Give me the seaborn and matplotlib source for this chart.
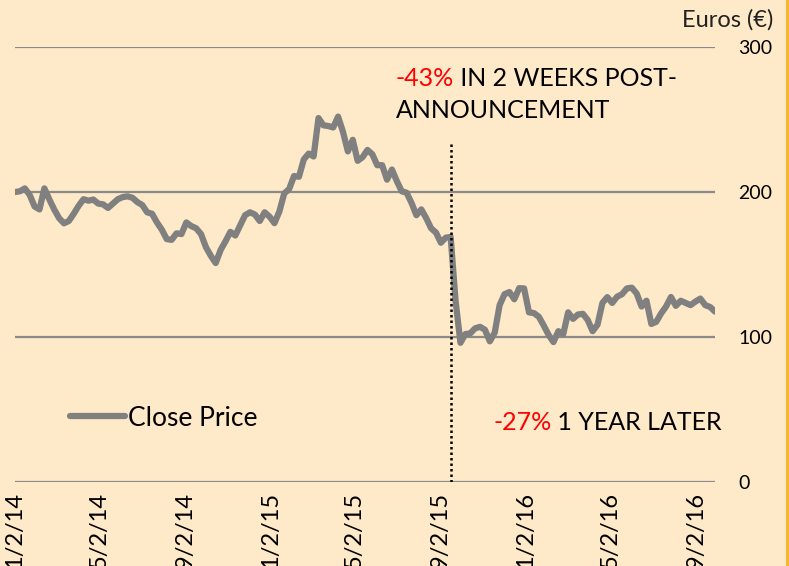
import matplotlib
matplotlib.use("Agg")
import matplotlib.pyplot as plt
from matplotlib.lines import Line2D
import seaborn as sns
import pandas as pd

# weekly close price (EUR)
close_price = [
    200, 200.5, 202.5, 198, 190, 188, 202.5, 195, 188, 182,
    178.4, 180, 185, 190.5, 195, 194, 194.8, 192, 191.5, 189,
    192, 195, 196.5, 197, 196, 193, 191, 186, 185, 179,
    174, 167.5, 167, 171.5, 171, 179, 176.5, 175, 171, 162,
    156, 151, 160, 166, 172.5, 170, 177, 184, 186, 184.5,
    180, 186, 183, 178.5, 186.5, 199, 202, 211, 210.5, 222.5,
    226.5, 224.5, 251, 246, 245.5, 244.5, 252, 241.5, 228, 236,
    221.5, 224, 229, 226, 218.5, 218.5, 208.5, 215.5, 207.5, 200.5,
    199.5, 192.5, 184, 188, 182, 175, 172, 165, 168.5, 169,
    125, 96, 102, 102.5, 106, 107, 105, 97, 103, 122,
    129.5, 131, 126, 133.7, 133.5, 117, 116.5, 114, 108, 101.5,
    96.5, 104, 102, 117, 112.5, 115.5, 116, 111.7, 104, 108.5,
    123.5, 127.5, 123.5, 127.8, 129.5, 133.5, 134, 130, 121, 125,
    109, 110.5, 116.3, 121, 127.6, 121.5, 125, 123.5, 122, 124.4,
    126.5, 122, 120.7, 117.5,
]
start_date = "2014-01-02"
tick_dates = ["2014-01-02", "2014-05-02", "2014-09-02", "2015-01-02", "2015-05-02",
              "2015-09-02", "2016-01-02", "2016-05-02", "2016-09-02"]
tick_labels = ["1/2/14", "5/2/14", "9/2/14", "1/2/15", "5/2/15",
               "9/2/15", "1/2/16", "5/2/16", "9/2/16"]
y_ticks = [0, 100, 200, 300]
announce_date = "2015-09-18"
announce_top = 235

bg = "#FEE9C8"
grey = "#808080"

sns.set_style("white", {"axes.facecolor": bg, "figure.facecolor": bg,
                        "text.color": "black", "xtick.color": "black",
                        "ytick.color": "black"})
plt.rcParams["font.family"] = ["Lato", "DejaVu Sans"]

df = pd.DataFrame({
    "Date": pd.date_range(start_date, periods=len(close_price), freq="7D"),
    "Close Price": close_price,
})

W, H = 789, 566
fig = plt.figure(figsize=(W / 100, H / 100), dpi=100)
ax = fig.add_axes([15 / W, 1 - 482 / H, (715 - 15) / W, (482 - 47) / H])

sns.lineplot(data=df, x="Date", y="Close Price", ax=ax, color=grey, lw=4.5,
             label="Close Price", zorder=3)

ax.vlines(pd.Timestamp(announce_date), 0, announce_top, colors="black",
          linestyles=(0, (1, 1.2)), lw=1.8, zorder=4)

ax.set_xlim(df["Date"].iloc[0], df["Date"].iloc[-1])
ax.set_ylim(0, 300)
ax.set_yticks(y_ticks)
ax.yaxis.tick_right()
ax.tick_params(axis="y", length=0, pad=17, labelsize=14, labelcolor="black")
ax.set_xticks(pd.to_datetime(tick_dates))
ax.set_xticklabels(tick_labels, rotation=90, fontsize=17)
ax.tick_params(axis="x", length=0, pad=7, labelcolor="black")
ax.set_xlabel("")
ax.set_ylabel("")
ax.grid(False)
ax.yaxis.grid(True, color="#8a8a8a", lw=1.6)
for s in ax.spines.values():
    s.set_visible(False)

leg = ax.legend(loc="center left", bbox_to_anchor=(70 / W, 1 - 418 / H),
                bbox_transform=fig.transFigure, frameon=False, fontsize=19,
                handlelength=2.1, handletextpad=0.1, borderpad=0, borderaxespad=0,
                labelcolor="black")

fig.text(773 / W, 1 - 20 / H, "Euros (€)", ha="right", va="center", fontsize=17,
         color="#222222")

t1 = fig.text(396 / W, 1 - 78 / H, "-43%", color="red", ha="left", va="center", fontsize=18)
ax.annotate(" IN 2 WEEKS POST-", xy=(1, 0.5), xycoords=t1, ha="left", va="center",
            fontsize=18, color="black")
fig.text(396 / W, 1 - 110 / H, "ANNOUNCEMENT", ha="left", va="center", fontsize=18,
         color="black")

t2 = fig.text(493 / W, 1 - 422 / H, "-27%", color="red", ha="left", va="center", fontsize=18)
ax.annotate(" 1 YEAR LATER", xy=(1, 0.5), xycoords=t2, ha="left", va="center",
            fontsize=18, color="black")

fig.add_artist(Line2D([786.5 / W, 786.5 / W], [0, 1], transform=fig.transFigure,
                      color="#F5B731", lw=2.2))

fig.savefig("out.png", dpi=100, facecolor=bg)
